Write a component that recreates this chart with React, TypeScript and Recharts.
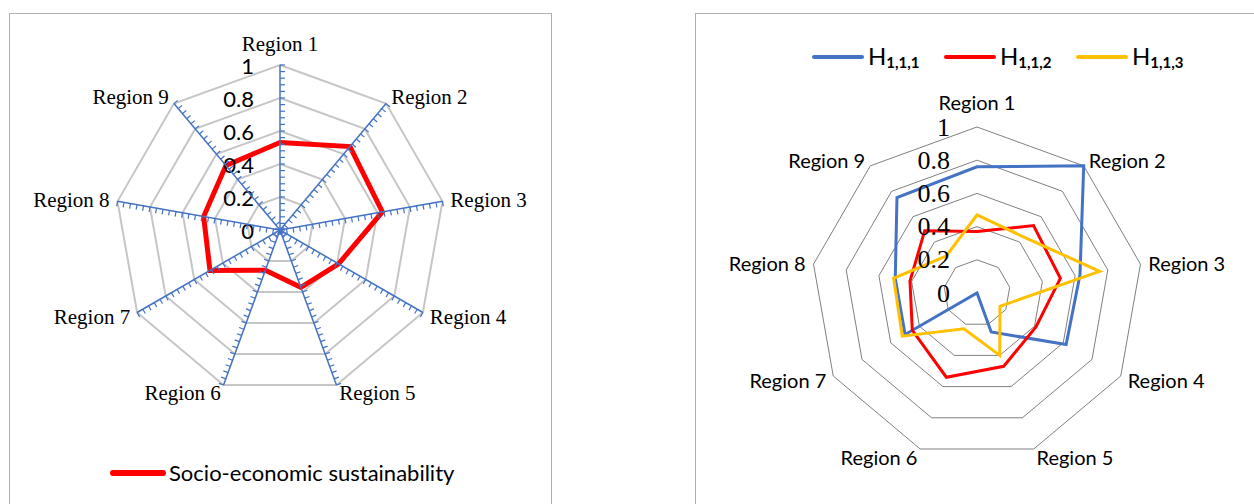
import { RadarChart, Radar, PolarGrid, PolarAngleAxis, PolarRadiusAxis, Legend } from 'recharts';

const regions = ['Region 1', 'Region 2', 'Region 3', 'Region 4', 'Region 5', 'Region 6', 'Region 7', 'Region 8', 'Region 9'];
const socioEconomic = [0.53, 0.66, 0.63, 0.41, 0.37, 0.26, 0.49, 0.47, 0.51];
const h111 = [0.76, 1.0, 0.63, 0.62, 0.25, 0, 0.5, 0.5, 0.75];
const h112 = [0.37, 0.53, 0.51, 0.41, 0.47, 0.54, 0.45, 0.41, 0.49];
const h113 = [0.47, 0.44, 0.75, 0.16, 0.4, 0.23, 0.52, 0.51, 0.29];
const hSeries = [
  { key: 'h111', sub: '1,1,1', color: '#4472c4' },
  { key: 'h112', sub: '1,1,2', color: '#ff0000' },
  { key: 'h113', sub: '1,1,3', color: '#ffc000' },
];
// side of each spoke that the minor ticks hang on
const spokeTickSide = [1, 1, 1, 1, -1, 1, -1, -1, 1];

const leftData = regions.map((region, i) => ({ region, value: socioEconomic[i] }));
const rightData = regions.map((region, i) => ({ region, h111: h111[i], h112: h112[i], h113: h113[i] }));

const BLUE = '#4472c4';
const SERIF = '"Liberation Serif", "Times New Roman", serif';
const SANS = 'Lato, "Open Sans", sans-serif';

const fmt = (v: number) => String(Number(v.toFixed(2)));

function angleLabel(font: string, size: number, topLift: number) {
  return (p: any) => {
    const rad = (p.payload.coordinate * Math.PI) / 180;
    const c = Math.cos(rad);
    const s = Math.sin(rad);
    const anchor = c > 0.1 ? 'start' : c < -0.1 ? 'end' : 'middle';
    const dy = s > 0.95 ? -topLift : 0;
    return (
      <text x={p.x} y={p.y + dy} textAnchor={anchor} dominantBaseline="central" fontFamily={font} fontSize={size} fill="#000">
        {p.payload.value}
      </text>
    );
  };
}

function radiusLabel(font: string, size: number, gap: number) {
  return (p: any) => (
    <text x={p.x - gap} y={p.y} textAnchor="end" dominantBaseline="central" fontFamily={font} fontSize={size} fill="#000">
      {fmt(p.payload.value)}
    </text>
  );
}

function spokeTick(angle: number, side: number) {
  return (p: any) => {
    const rad = (angle * Math.PI) / 180;
    const dx = side * Math.sin(rad) * 5;
    const dy = side * Math.cos(rad) * 5;
    return <line x1={p.x} y1={p.y} x2={p.x + dx} y2={p.y + dy} stroke={BLUE} strokeWidth={1.2} />;
  };
}

function SustainabilityChart() {
  return (
    <RadarChart width={542} height={491} data={leftData} cx={271} cy={217} outerRadius={165} startAngle={90} endAngle={-270} margin={{ top: 0, right: 0, bottom: 0, left: 0 }}>
      <PolarGrid gridType="polygon" radialLines={false} stroke="#c6c6c6" strokeWidth={2} />
      <PolarAngleAxis dataKey="region" tickLine={false} axisLine={false} tick={angleLabel(SERIF, 21, 13)} />
      <PolarRadiusAxis angle={90} type="number" domain={[0, 1]} allowDecimals tickCount={6} axisLine={false} tick={radiusLabel(SANS, 22, 26)} />
      {regions.map((_, i) => {
        const angle = 90 - (360 * i) / regions.length;
        return (
          <PolarRadiusAxis
            key={i}
            radiusAxisId={`spoke${i}`}
            angle={angle}
            type="number"
            domain={[0, 1]}
            allowDataOverflow
            allowDecimals
            tickCount={26}
            axisLine={{ stroke: BLUE, strokeWidth: 1.5 }}
            tick={spokeTick(angle, spokeTickSide[i])}
          />
        );
      })}
      <Radar dataKey="value" name="Socio-economic sustainability" stroke="#ff0000" strokeWidth={5} fill="none" fillOpacity={0} dot={false} isAnimationActive={false} />
      <Legend
        verticalAlign="bottom"
        wrapperStyle={{ top: 447, left: 101, bottom: 'auto', width: 'auto' }}
        content={() => (
          <div style={{ display: 'flex', alignItems: 'center', height: 26 }}>
            <span style={{ display: 'inline-block', width: 56, height: 6, background: '#ff0000', borderRadius: 3 }} />
            <span style={{ fontFamily: SANS, fontSize: 22, lineHeight: '26px', marginLeft: 3, color: '#000' }}>Socio-economic sustainability</span>
          </div>
        )}
      />
    </RadarChart>
  );
}

function HChart() {
  return (
    <RadarChart width={559} height={491} data={rightData} cx={282} cy={280} outerRadius={166} startAngle={90} endAngle={-270} margin={{ top: 0, right: 0, bottom: 0, left: 0 }}>
      <PolarGrid gridType="polygon" radialLines={false} stroke="#808080" strokeWidth={1} />
      <PolarAngleAxis dataKey="region" tickLine={false} axisLine={false} tick={angleLabel(SANS, 20, 17)} />
      <PolarRadiusAxis angle={90} type="number" domain={[0, 1]} allowDecimals tickCount={6} axisLine={false} tick={radiusLabel(SERIF, 26, 27)} />
      {hSeries.map((s) => (
        <Radar key={s.key} dataKey={s.key} name={`H${s.sub}`} stroke={s.color} strokeWidth={3} fill="none" fillOpacity={0} dot={false} isAnimationActive={false} />
      ))}
      <Legend
        verticalAlign="bottom"
        wrapperStyle={{ top: 31, left: 117, bottom: 'auto', width: 'auto' }}
        content={() => (
          <div style={{ display: 'flex' }}>
            {hSeries.map((s) => (
              <div key={s.key} style={{ display: 'flex', alignItems: 'center', width: 132, height: 24 }}>
                <span style={{ display: 'inline-block', width: 52, height: 4, marginTop: 2, background: s.color, borderRadius: 2 }} />
                <span style={{ fontFamily: SANS, fontSize: 24, lineHeight: '24px', marginLeft: 4, color: '#000', whiteSpace: 'nowrap' }}>
                  H
                  <span style={{ fontSize: 15, fontWeight: 700, lineHeight: 0, position: 'relative', top: 3 }}>{s.sub}</span>
                </span>
              </div>
            ))}
          </div>
        )}
      />
    </RadarChart>
  );
}

export default function App() {
  return (
    <div style={{ position: 'absolute', left: 0, top: 0, width: 1254, height: 504, background: '#fff', overflow: 'hidden' }}>
      <div style={{ position: 'absolute', left: 9, top: 13, width: 541, height: 520, border: '1px solid #b0b0b0' }} />
      <div style={{ position: 'absolute', left: 695, top: 13, width: 600, height: 520, border: '1px solid #b0b0b0' }} />
      <div style={{ position: 'absolute', left: 9, top: 13 }}>
        <SustainabilityChart />
      </div>
      <div style={{ position: 'absolute', left: 695, top: 13 }}>
        <HChart />
      </div>
    </div>
  );
}
